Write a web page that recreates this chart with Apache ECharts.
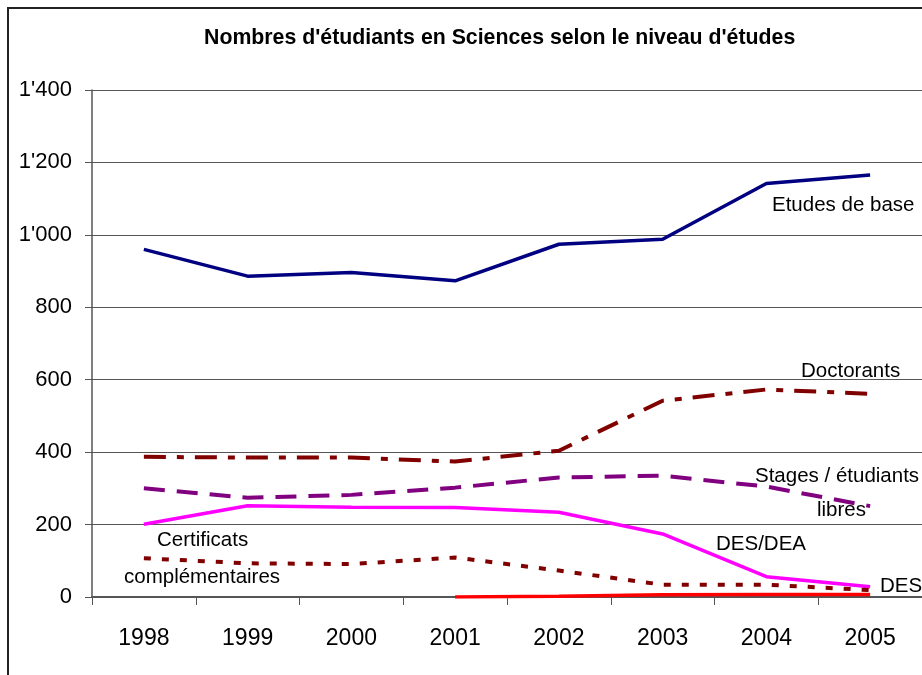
<!DOCTYPE html>
<html>
<head>
<meta charset="utf-8">
<script src="https://cdn.jsdelivr.net/npm/echarts@6/dist/echarts.min.js"></script>
<style>
html,body{margin:0;padding:0;background:#fff;}
#chart{width:922px;height:675px;}
</style>
</head>
<body>
<div id="chart"></div>
<script>
var years = ['1998','1999','2000','2001','2002','2003','2004','2005'];
var etudesDeBase = [960, 886, 896, 873, 974, 988, 1142, 1165];
var doctorants = [387, 385, 385, 374, 404, 542, 573, 561];
var stages = [300, 274, 282, 302, 330, 335, 305, 251];
var desDea = [201, 252, 248, 247, 234, 174, 56, 28];
var certificats = [107, 93, 91, 109, 73, 34, 34, 19];
var dess = ['-', '-', '-', 0, 2, 6, 7, 7];
var yTicks = [0, 200, 400, 600, 800, 1000, 1200, 1400];

var FONT = 'Liberation Sans';
var chart = echarts.init(document.getElementById('chart'));

function fmt(v){
  var s = String(v);
  if (v >= 1000) s = s.slice(0, s.length-3) + "'" + s.slice(s.length-3);
  return s;
}
function txt(t, x, cy){
  return {type:'text', left:x, top:cy - 9, z:10,
    style:{text:t, font:'20.5px "' + FONT + '"', fill:'#000'}};
}

chart.setOption({
  animation:false,
  backgroundColor:'#fff',
  title:{
    text:"Nombres d'étudiants en Sciences selon le niveau d'études",
    left:204, top:28, padding:0,
    textStyle:{fontFamily:FONT, fontWeight:'bold', fontSize:21.3, color:'#000'}
  },
  grid:{left:92, top:90, width:832, height:507, containLabel:false},
  xAxis:{
    type:'category', data:years, boundaryGap:true,
    axisLine:{lineStyle:{color:'#555', width:2}},
    axisTick:{show:true, length:8, lineStyle:{color:'#555', width:1}},
    axisLabel:{fontFamily:FONT, fontSize:23, color:'#000', margin:30},
    splitLine:{show:false}
  },
  yAxis:{
    type:'value', min:yTicks[0], max:yTicks[yTicks.length-1], interval:200,
    axisLine:{show:true, lineStyle:{color:'#555', width:1.5}},
    axisTick:{show:true, length:7, lineStyle:{color:'#555'}},
    axisLabel:{fontFamily:FONT, fontSize:22, color:'#000', margin:20, formatter:fmt, padding:[4,0,0,0]},
    splitLine:{show:true, lineStyle:{color:'#555', width:1}}
  },
  graphic:[
    {type:'rect', shape:{x:8, y:8, width:1200, height:1200}, z:-1,
     style:{fill:'none', stroke:'#222', lineWidth:2}},
    txt('Etudes de base', 772, 204),
    txt('Doctorants', 801, 370),
    txt('Stages / étudiants', 755, 475),
    txt('libres', 817, 509),
    txt('DES/DEA', 716, 543),
    txt('DESS', 880, 585),
    txt('Certificats', 157, 539),
    txt('complémentaires', 124, 576)
  ],
  series:[
    {name:'Etudes de base', type:'line', data:etudesDeBase, symbol:'none',
     lineStyle:{color:'#000080', width:3.5}},
    {name:'Doctorants', type:'line', data:doctorants, symbol:'none',
     lineStyle:{color:'#800000', width:4, type:[22,11,7,11], cap:'butt'}},
    {name:'Stages / étudiants libres', type:'line', data:stages, symbol:'none',
     lineStyle:{color:'#800080', width:4, type:[21,12], cap:'butt'}},
    {name:'DES/DEA', type:'line', data:desDea, symbol:'none',
     lineStyle:{color:'#FF00FF', width:3.5}},
    {name:'Certificats complémentaires', type:'line', data:certificats, symbol:'none',
     lineStyle:{color:'#800000', width:4, type:[7,11], cap:'butt'}},
    {name:'DESS', type:'line', data:dess, symbol:'none', z:5,
     lineStyle:{color:'#FF0000', width:3.5}}
  ]
});
</script>
</body>
</html>
